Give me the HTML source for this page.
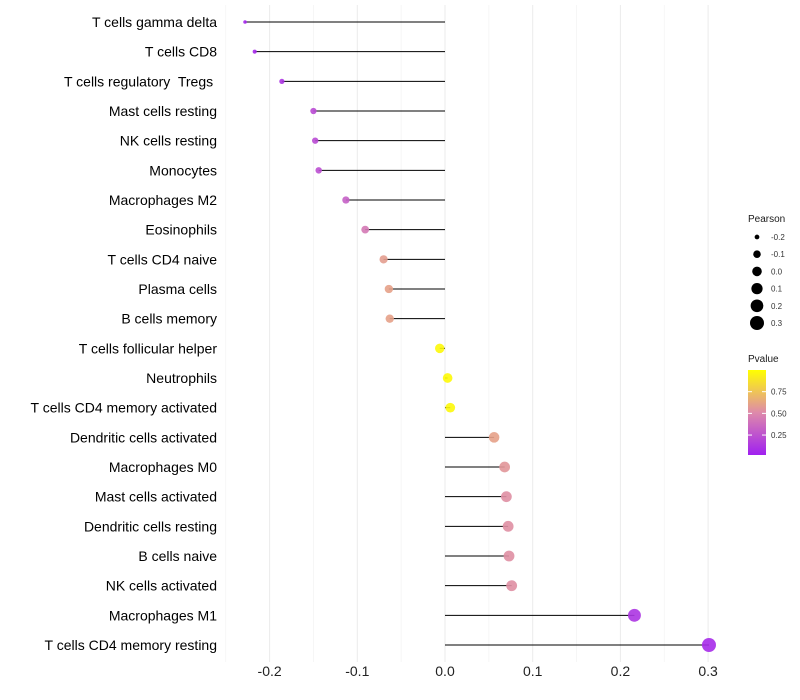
<!DOCTYPE html>
<html><head><meta charset="utf-8"><style>
body{margin:0;background:#fff;}
svg{display:block;font-family:"Liberation Sans",sans-serif;}
text{white-space:pre;}
</style></head><body>
<svg id="c" width="800" height="700"></svg>
<script>
const categories=["T cells gamma delta","T cells CD8","T cells regulatory  Tregs ","Mast cells resting","NK cells resting","Monocytes","Macrophages M2","Eosinophils","T cells CD4 naive","Plasma cells","B cells memory","T cells follicular helper","Neutrophils","T cells CD4 memory activated","Dendritic cells activated","Macrophages M0","Mast cells activated","Dendritic cells resting","B cells naive","NK cells activated","Macrophages M1","T cells CD4 memory resting"];
const pearson=[-0.228,-0.217,-0.186,-0.150,-0.148,-0.144,-0.113,-0.091,-0.070,-0.064,-0.063,-0.006,0.003,0.006,0.056,0.068,0.070,0.072,0.073,0.076,0.216,0.301];
const pvalue=[0.03,0.04,0.1,0.2,0.2,0.22,0.3,0.42,0.58,0.6,0.6,0.97,0.98,0.97,0.6,0.55,0.52,0.52,0.52,0.52,0.1,0.05];
const xTicks=[-0.2,-0.1,0.0,0.1,0.2,0.3];
const sizeBreaks=[-0.2,-0.1,0.0,0.1,0.2,0.3];
const colorBreaks=[0.25,0.5,0.75];
const NS="http://www.w3.org/2000/svg";
const svg=document.getElementById('c');
const X=v=>445+v*877;
const Y=i=>22+i*29.667;
const R=v=>Math.sqrt(Math.max(1,23+86.7*v));
function col(p){
  const a=[160,32,240],m=[222,138,170],b=[255,255,0];
  let c;
  if(p<0.5){const t=p/0.5;c=a.map((x,k)=>x+(m[k]-x)*t);}else{const t=(p-0.5)/0.5;c=m.map((x,k)=>x+(b[k]-x)*t);}
  return `rgb(${c.map(Math.round).join(',')})`;
}
function el(tag,attrs,parent){const e=document.createElementNS(NS,tag);for(const k in attrs)e.setAttribute(k,attrs[k]);(parent||svg).appendChild(e);return e;}
for(let v=-0.25;v<=0.301;v+=0.05){
  const major=Math.abs(Math.round(v*100)%10)===0;
  const g=el('line',{x1:X(v),x2:X(v),y1:5,y2:662,stroke:major?'#ebebeb':'#f4f4f4','stroke-width':major?1:0.8});
  
  
}
xTicks.forEach(t=>{
  const tx=el('text',{x:X(t),y:676,'text-anchor':'middle','font-size':14,fill:'#222'});
  tx.textContent=t.toFixed(1);
  
  
});
categories.forEach((c,i)=>{
  const lb=el('text',{x:217,y:Y(i)+5,'text-anchor':'end','font-size':14,fill:'#000'});
  lb.textContent=c;
  
  
  const ln=el('line',{x1:X(0),x2:X(pearson[i]),y1:Y(i),y2:Y(i),stroke:'#000','stroke-width':1});
  
  
  const pt=el('circle',{cx:X(pearson[i]),cy:Y(i),r:R(pearson[i]),fill:col(pvalue[i]),opacity:0.9});
  
  
});
const t1=el('text',{x:748,y:222,'font-size':10,fill:'#1a1a1a'});t1.textContent='Pearson';


sizeBreaks.forEach((s,i)=>{
  const y=237+i*17.2;
  const d=el('circle',{cx:757,cy:y,r:R(s),fill:'#000'});
  
  
  const l=el('text',{x:771,y:y+3,'font-size':8,fill:'#333'});l.textContent=s.toFixed(1);
  
  
});
const t2=el('text',{x:748,y:362,'font-size':10,fill:'#1a1a1a'});t2.textContent='Pvalue';


const defs=el('defs',{});
const gr=el('linearGradient',{id:'g',x1:0,y1:1,x2:0,y2:0},defs);
[0,0.25,0.5,0.75,1].forEach(o=>el('stop',{offset:o,'stop-color':col(o)},gr));
const cb=el('rect',{x:748,y:370,width:18,height:85,fill:'url(#g)'});


colorBreaks.forEach(b=>{
  const y=455-(b-0.02)/0.98*85;
  el('line',{x1:748,x2:752,y1:y,y2:y,stroke:'#fff'});el('line',{x1:762,x2:766,y1:y,y2:y,stroke:'#fff'});
  const l=el('text',{x:771,y:y+3,'font-size':8,fill:'#333'});l.textContent=b.toFixed(2);
  
  
});
</script>
</body></html>
